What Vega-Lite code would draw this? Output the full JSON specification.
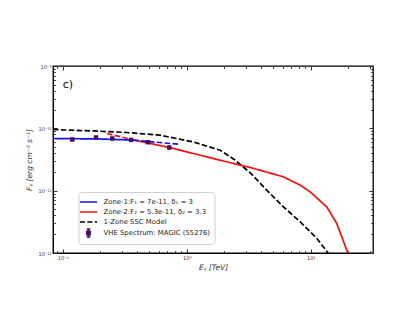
{
  "$schema": "https://vega.github.io/schema/vega-lite/v6.json",
  "width": 320,
  "height": 187,
  "autosize": "none",
  "padding": {"left": 53, "top": 66, "right": 42, "bottom": 68},
  "background": "white",
  "config": {
    "font": "DejaVu Sans",
    "view": {"stroke": "black", "strokeWidth": 1.3},
    "axis": {"grid": false, "domainColor": "black", "tickColor": "#333", "labelColor": "#333", "titleColor": "#333", "titleFontWeight": "normal"}
  },
  "datasets": {
    "lines": [
      {"series": "1-Zone SSC Model", "seg": "k", "dash": "dashed", "E": 0.0835, "F": 9.57e-11},
      {"series": "1-Zone SSC Model", "seg": "k", "dash": "dashed", "E": 0.1767, "F": 9.08e-11},
      {"series": "1-Zone SSC Model", "seg": "k", "dash": "dashed", "E": 0.328, "F": 8.57e-11},
      {"series": "1-Zone SSC Model", "seg": "k", "dash": "dashed", "E": 0.609, "F": 7.76e-11},
      {"series": "1-Zone SSC Model", "seg": "k", "dash": "dashed", "E": 1.13, "F": 6.05e-11},
      {"series": "1-Zone SSC Model", "seg": "k", "dash": "dashed", "E": 1.86, "F": 4.46e-11},
      {"series": "1-Zone SSC Model", "seg": "k", "dash": "dashed", "E": 2.4, "F": 3.2e-11},
      {"series": "1-Zone SSC Model", "seg": "k", "dash": "dashed", "E": 3.24, "F": 1.95e-11},
      {"series": "1-Zone SSC Model", "seg": "k", "dash": "dashed", "E": 4.42, "F": 1.02e-11},
      {"series": "1-Zone SSC Model", "seg": "k", "dash": "dashed", "E": 6.01, "F": 5.52e-12},
      {"series": "1-Zone SSC Model", "seg": "k", "dash": "dashed", "E": 8.2, "F": 3.18e-12},
      {"series": "1-Zone SSC Model", "seg": "k", "dash": "dashed", "E": 11.17, "F": 1.73e-12},
      {"series": "1-Zone SSC Model", "seg": "k", "dash": "dashed", "E": 13.86, "F": 9.9e-13},
      {"series": "1-Zone SSC Model", "seg": "k", "dash": "dashed", "E": 14.3, "F": 9.0e-13},
      {"series": "Zone-2:F₂ = 5.3e-11,  δ₂ = 3.3", "seg": "r1", "dash": "dashed", "E": 0.2276, "F": 8.26e-11},
      {"series": "Zone-2:F₂ = 5.3e-11,  δ₂ = 3.3", "seg": "r1", "dash": "dashed", "E": 0.29, "F": 7.35e-11},
      {"series": "Zone-2:F₂ = 5.3e-11,  δ₂ = 3.3", "seg": "r1", "dash": "dashed", "E": 0.356, "F": 6.62e-11},
      {"series": "Zone-2:F₂ = 5.3e-11,  δ₂ = 3.3", "seg": "r2", "dash": "solid", "E": 0.356, "F": 6.62e-11},
      {"series": "Zone-2:F₂ = 5.3e-11,  δ₂ = 3.3", "seg": "r2", "dash": "solid", "E": 0.724, "F": 4.93e-11},
      {"series": "Zone-2:F₂ = 5.3e-11,  δ₂ = 3.3", "seg": "r2", "dash": "solid", "E": 1.13, "F": 3.95e-11},
      {"series": "Zone-2:F₂ = 5.3e-11,  δ₂ = 3.3", "seg": "r2", "dash": "solid", "E": 2.69, "F": 2.57e-11},
      {"series": "Zone-2:F₂ = 5.3e-11,  δ₂ = 3.3", "seg": "r2", "dash": "solid", "E": 3.24, "F": 2.36e-11},
      {"series": "Zone-2:F₂ = 5.3e-11,  δ₂ = 3.3", "seg": "r2", "dash": "solid", "E": 6.01, "F": 1.67e-11},
      {"series": "Zone-2:F₂ = 5.3e-11,  δ₂ = 3.3", "seg": "r2", "dash": "solid", "E": 8.2, "F": 1.23e-11},
      {"series": "Zone-2:F₂ = 5.3e-11,  δ₂ = 3.3", "seg": "r2", "dash": "solid", "E": 9.87, "F": 9.6e-12},
      {"series": "Zone-2:F₂ = 5.3e-11,  δ₂ = 3.3", "seg": "r2", "dash": "solid", "E": 13.45, "F": 5.52e-12},
      {"series": "Zone-2:F₂ = 5.3e-11,  δ₂ = 3.3", "seg": "r2", "dash": "solid", "E": 16.2, "F": 3.0e-12},
      {"series": "Zone-2:F₂ = 5.3e-11,  δ₂ = 3.3", "seg": "r2", "dash": "solid", "E": 19.9, "F": 1.01e-12},
      {"series": "Zone-2:F₂ = 5.3e-11,  δ₂ = 3.3", "seg": "r2", "dash": "solid", "E": 20.2, "F": 9.0e-13},
      {"series": "Zone-1:F₁ = 7e-11,  δ₁ = 3", "seg": "b1", "dash": "solid", "E": 0.0835, "F": 6.87e-11},
      {"series": "Zone-1:F₁ = 7e-11,  δ₁ = 3", "seg": "b1", "dash": "solid", "E": 0.2, "F": 6.75e-11},
      {"series": "Zone-1:F₁ = 7e-11,  δ₁ = 3", "seg": "b1", "dash": "solid", "E": 0.37, "F": 6.48e-11},
      {"series": "Zone-1:F₁ = 7e-11,  δ₁ = 3", "seg": "b2", "dash": "dashed", "E": 0.37, "F": 6.48e-11},
      {"series": "Zone-1:F₁ = 7e-11,  δ₁ = 3", "seg": "b2", "dash": "dashed", "E": 0.86, "F": 5.55e-11}
    ],
    "points": [
      {"series": "VHE Spectrum: MAGIC (55276)", "E": 0.1195, "F": 6.62e-11, "lo": 6.25e-11, "hi": 7.0e-11},
      {"series": "VHE Spectrum: MAGIC (55276)", "E": 0.1856, "F": 7.13e-11, "lo": 6.75e-11, "hi": 7.5e-11},
      {"series": "VHE Spectrum: MAGIC (55276)", "E": 0.251, "F": 6.87e-11, "lo": 6.5e-11, "hi": 7.25e-11},
      {"series": "VHE Spectrum: MAGIC (55276)", "E": 0.356, "F": 6.52e-11, "lo": 6.15e-11, "hi": 6.9e-11},
      {"series": "VHE Spectrum: MAGIC (55276)", "E": 0.488, "F": 5.99e-11, "lo": 5.6e-11, "hi": 6.4e-11},
      {"series": "VHE Spectrum: MAGIC (55276)", "E": 0.724, "F": 4.93e-11, "lo": 4.55e-11, "hi": 5.3e-11}
    ],
    "note": [{"E": 0.1, "F": 4.9e-10, "label": "c)"}]
  },
  "resolve": {"axis": {"x": "independent", "y": "independent"}},
  "layer": [
    {
      "data": {"name": "lines"},
      "transform": [{"filter": "datum.seg === 'k'"}],
      "mark": {"type": "line", "strokeWidth": 1.7, "clip": true},
      "encoding": {
        "x": {"field": "E", "type": "quantitative",
          "scale": {"type": "log", "domain": [0.0835, 31.8], "nice": false},
          "axis": {"orient": "bottom", "title": "Eᵧ [TeV]", "titleFontSize": 7.5, "titleFontStyle": "italic", "titlePadding": 2,
            "values": [0.09, 0.1, 0.2, 0.3, 0.4, 0.5, 0.6, 0.7, 0.8, 0.9, 1, 2, 3, 4, 5, 6, 7, 8, 9, 10, 20, 30],
            "tickSize": {"condition": {"test": "datum.value === 0.1 || datum.value === 1 || datum.value === 10", "value": -4}, "value": -2.3},
            "labelExpr": "datum.value === 0.1 ? '10⁻¹' : datum.value === 1 ? '10⁰' : datum.value === 10 ? '10¹' : ''",
            "labelFontSize": 5, "labelPadding": 6, "labelOverlap": false, "labelFlush": false}},
        "y": {"field": "F", "type": "quantitative",
          "scale": {"type": "log", "domain": [1e-12, 1e-9], "nice": false},
          "axis": {"orient": "left", "title": "Fᵧ [erg cm⁻² s⁻¹]", "titleFontSize": 7.5, "titleFontStyle": "italic", "titlePadding": 4,
            "values": [2e-12, 3e-12, 4e-12, 5e-12, 6e-12, 7e-12, 8e-12, 9e-12, 1e-11, 2e-11, 3e-11, 4e-11, 5e-11, 6e-11, 7e-11, 8e-11, 9e-11, 1e-10, 2e-10, 3e-10, 4e-10, 5e-10, 6e-10, 7e-10, 8e-10, 9e-10, 1e-12, 1e-9],
            "tickSize": {"condition": {"test": "datum.value === 1e-12 || datum.value === 1e-11 || datum.value === 1e-10 || datum.value === 1e-9", "value": -4}, "value": -2.3},
            "labelExpr": "datum.value === 1e-12 ? '10⁻¹²' : datum.value === 1e-11 ? '10⁻¹¹' : datum.value === 1e-10 ? '10⁻¹⁰' : datum.value === 1e-9 ? '10⁻⁹' : ''",
            "labelFontSize": 5, "labelPadding": 6, "labelOverlap": false, "labelFlush": false}},
        "color": {"field": "series", "type": "nominal",
          "scale": {"domain": ["Zone-1:F₁ = 7e-11,  δ₁ = 3", "Zone-2:F₂ = 5.3e-11,  δ₂ = 3.3", "1-Zone SSC Model", "VHE Spectrum: MAGIC (55276)"],
                    "range": ["#1010f0", "#f01010", "black", "#4b0a5e"]},
          "legend": {"title": null, "orient": "none", "legendX": 25.5, "legendY": 126,
            "fillColor": "white", "strokeColor": "#d0d0d0", "cornerRadius": 3, "padding": 3.5,
            "labelFontSize": 6.9, "labelColor": "#222", "labelLimit": 250, "symbolSize": 121, "symbolStrokeWidth": 1.6, "rowPadding": 0, "labelOffset": 8.5,
            "encode": {"symbols": {"update": {
              "shape": {"signal": "datum.value === 'VHE Spectrum: MAGIC (55276)' ? 'M0,-1V1M-0.45,-1H0.45M-0.45,1H0.45M-0.4,-0.4H0.4V0.4H-0.4Z' : 'M-1.55,0H1.55'"},
              "size": {"signal": "datum.value === 'VHE Spectrum: MAGIC (55276)' ? 64 : 121"},
              "strokeDash": {"signal": "datum.value === '1-Zone SSC Model' ? [5, 2.4] : [1, 0]"},
              "fill": {"signal": "datum.value === 'VHE Spectrum: MAGIC (55276)' ? '#4b0a5e' : 'transparent'"},
              "stroke": {"signal": "datum.value === 'VHE Spectrum: MAGIC (55276)' ? '#a347a3' : datum.value === '1-Zone SSC Model' ? 'black' : datum.value === 'Zone-1:F₁ = 7e-11,  δ₁ = 3' ? '#1010f0' : '#f01010'"},
              "strokeWidth": {"value": 1.7}
            }}}}},
        "strokeDash": {"field": "dash", "type": "nominal", "scale": {"domain": ["solid", "dashed"], "range": [[1, 0], [5.5, 2.4]]}, "legend": null},
        "detail": {"field": "seg"}
      }
    },
    {
      "data": {"name": "lines"},
      "transform": [{"filter": "datum.seg !== 'k'"}],
      "mark": {"type": "line", "strokeWidth": 1.7, "clip": true},
      "encoding": {
        "x": {"field": "E", "type": "quantitative", "scale": {"type": "log", "domain": [0.0835, 31.8], "nice": false},
          "axis": {"orient": "top", "title": null, "labels": false, "domain": false,
            "values": [0.09, 0.1, 0.2, 0.3, 0.4, 0.5, 0.6, 0.7, 0.8, 0.9, 1, 2, 3, 4, 5, 6, 7, 8, 9, 10, 20, 30],
            "tickSize": {"condition": {"test": "datum.value === 0.1 || datum.value === 1 || datum.value === 10", "value": -4}, "value": -2.3}}},
        "y": {"field": "F", "type": "quantitative", "scale": {"type": "log", "domain": [1e-12, 1e-9], "nice": false},
          "axis": {"orient": "right", "title": null, "labels": false, "domain": false,
            "values": [2e-12, 3e-12, 4e-12, 5e-12, 6e-12, 7e-12, 8e-12, 9e-12, 1e-11, 2e-11, 3e-11, 4e-11, 5e-11, 6e-11, 7e-11, 8e-11, 9e-11, 1e-10, 2e-10, 3e-10, 4e-10, 5e-10, 6e-10, 7e-10, 8e-10, 9e-10, 1e-12, 1e-9],
            "tickSize": {"condition": {"test": "datum.value === 1e-12 || datum.value === 1e-11 || datum.value === 1e-10 || datum.value === 1e-9", "value": -4}, "value": -2.3}}},
        "color": {"field": "series", "type": "nominal"},
        "strokeDash": {"field": "dash", "type": "nominal", "legend": null},
        "detail": {"field": "seg"}
      }
    },
    {
      "data": {"name": "points"},
      "mark": {"type": "rule", "color": "#a347a3", "strokeWidth": 1},
      "encoding": {
        "x": {"field": "E", "type": "quantitative", "axis": null},
        "y": {"field": "lo", "type": "quantitative", "axis": null},
        "y2": {"field": "hi"}
      }
    },
    {
      "data": {"name": "points"},
      "mark": {"type": "square", "size": 20, "opacity": 1, "filled": true},
      "encoding": {
        "x": {"field": "E", "type": "quantitative", "axis": null},
        "y": {"field": "F", "type": "quantitative", "axis": null},
        "color": {"field": "series", "type": "nominal"}
      }
    },
    {
      "data": {"name": "note"},
      "mark": {"type": "text", "align": "left", "baseline": "middle", "fontSize": 11, "color": "black"},
      "encoding": {
        "x": {"field": "E", "type": "quantitative", "axis": null},
        "y": {"field": "F", "type": "quantitative", "axis": null},
        "text": {"field": "label"}
      }
    }
  ]
}
